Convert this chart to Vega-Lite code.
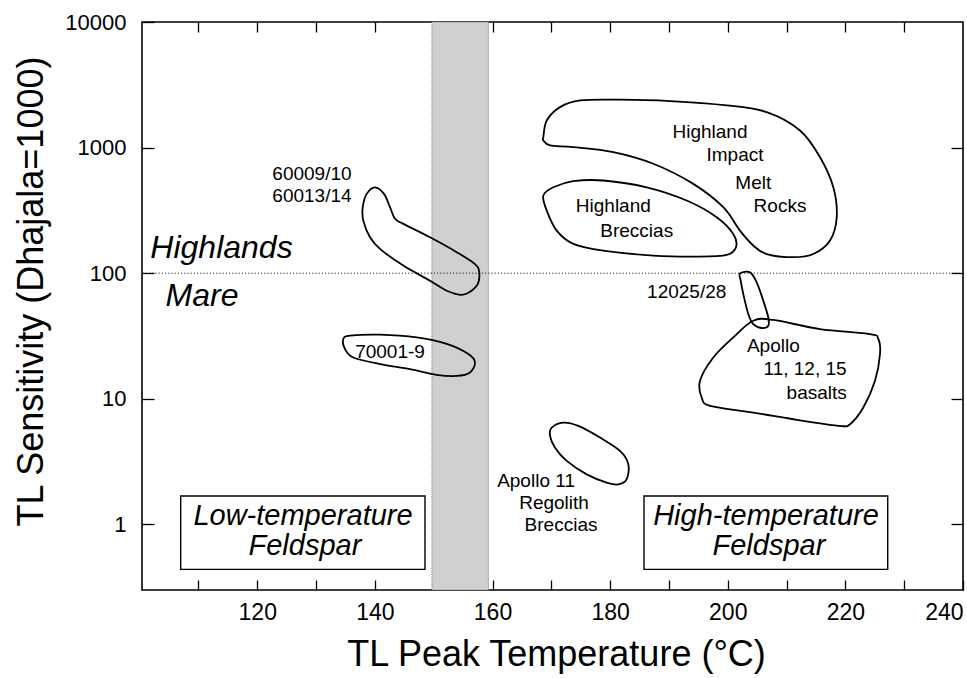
{
  "$schema": "https://vega.github.io/schema/vega-lite/v6.json",
  "width": 821,
  "height": 568,
  "autosize": "none",
  "padding": {"left": 142, "top": 22, "right": 4, "bottom": 88},
  "background": "white",
  "config": {
    "font": "Liberation Sans",
    "view": {"stroke": "black", "strokeWidth": 1.6},
    "axis": {
      "labelFont": "Liberation Sans",
      "titleFont": "Liberation Sans",
      "labelColor": "black",
      "titleColor": "black",
      "tickColor": "black",
      "tickWidth": 1.3,
      "titleFontWeight": "normal",
      "grid": false,
      "domain": false
    }
  },
  "datasets": {
    "band": [{"t1": 149.7, "t2": 159.3, "s1": 0.3, "s2": 10000}],
    "divide": [{"sensitivity": 100}],
    "regions": [
      {"shape": "60009", "i": 1, "temperature": 140.02, "sensitivity": 483},
      {"shape": "60009", "i": 2, "temperature": 141.55, "sensitivity": 428},
      {"shape": "60009", "i": 3, "temperature": 142.57, "sensitivity": 335},
      {"shape": "60009", "i": 4, "temperature": 143.42, "sensitivity": 271},
      {"shape": "60009", "i": 5, "temperature": 144.83, "sensitivity": 247},
      {"shape": "60009", "i": 6, "temperature": 149.37, "sensitivity": 193},
      {"shape": "60009", "i": 7, "temperature": 153.91, "sensitivity": 147},
      {"shape": "60009", "i": 8, "temperature": 157.02, "sensitivity": 118},
      {"shape": "60009", "i": 9, "temperature": 157.75, "sensitivity": 101},
      {"shape": "60009", "i": 10, "temperature": 157.31, "sensitivity": 79.5},
      {"shape": "60009", "i": 11, "temperature": 155.03, "sensitivity": 67.4},
      {"shape": "60009", "i": 12, "temperature": 152.21, "sensitivity": 72.5},
      {"shape": "60009", "i": 13, "temperature": 149.37, "sensitivity": 87.1},
      {"shape": "60009", "i": 14, "temperature": 144.83, "sensitivity": 115},
      {"shape": "60009", "i": 15, "temperature": 140.87, "sensitivity": 156},
      {"shape": "60009", "i": 16, "temperature": 139.17, "sensitivity": 193},
      {"shape": "60009", "i": 17, "temperature": 138.03, "sensitivity": 262},
      {"shape": "60009", "i": 18, "temperature": 137.93, "sensitivity": 335},
      {"shape": "60009", "i": 19, "temperature": 138.61, "sensitivity": 428},

      {"shape": "70001", "i": 1, "temperature": 134.63, "sensitivity": 29.9},
      {"shape": "70001", "i": 2, "temperature": 135.77, "sensitivity": 31.8},
      {"shape": "70001", "i": 3, "temperature": 140.87, "sensitivity": 32.4},
      {"shape": "70001", "i": 4, "temperature": 147.11, "sensitivity": 30.8},
      {"shape": "70001", "i": 5, "temperature": 152.21, "sensitivity": 27.3},
      {"shape": "70001", "i": 6, "temperature": 155.89, "sensitivity": 22.7},
      {"shape": "70001", "i": 7, "temperature": 157.02, "sensitivity": 19.5},
      {"shape": "70001", "i": 8, "temperature": 156.17, "sensitivity": 16.2},
      {"shape": "70001", "i": 9, "temperature": 153.91, "sensitivity": 15.2},
      {"shape": "70001", "i": 10, "temperature": 150.51, "sensitivity": 15.5},
      {"shape": "70001", "i": 11, "temperature": 145.97, "sensitivity": 17.2},
      {"shape": "70001", "i": 12, "temperature": 140.87, "sensitivity": 18.9},
      {"shape": "70001", "i": 13, "temperature": 136.33, "sensitivity": 21.3},
      {"shape": "70001", "i": 14, "temperature": 134.92, "sensitivity": 24.9},

      {"shape": "impact", "i": 1, "temperature": 168.64, "sensitivity": 1211},
      {"shape": "impact", "i": 2, "temperature": 169.22, "sensitivity": 1644},
      {"shape": "impact", "i": 3, "temperature": 171.48, "sensitivity": 2100},
      {"shape": "impact", "i": 4, "temperature": 174.88, "sensitivity": 2375},
      {"shape": "impact", "i": 5, "temperature": 181.68, "sensitivity": 2405},
      {"shape": "impact", "i": 6, "temperature": 190.18, "sensitivity": 2344},
      {"shape": "impact", "i": 7, "temperature": 199.82, "sensitivity": 2167},
      {"shape": "impact", "i": 8, "temperature": 206.62, "sensitivity": 1916},
      {"shape": "impact", "i": 9, "temperature": 212.29, "sensitivity": 1368},
      {"shape": "impact", "i": 10, "temperature": 215.69, "sensitivity": 838},
      {"shape": "impact", "i": 11, "temperature": 217.95, "sensitivity": 483},
      {"shape": "impact", "i": 12, "temperature": 218.53, "sensitivity": 279},
      {"shape": "impact", "i": 13, "temperature": 217.39, "sensitivity": 182},
      {"shape": "impact", "i": 14, "temperature": 214.55, "sensitivity": 142},
      {"shape": "impact", "i": 15, "temperature": 211.15, "sensitivity": 134},
      {"shape": "impact", "i": 16, "temperature": 206.62, "sensitivity": 142},
      {"shape": "impact", "i": 17, "temperature": 204.34, "sensitivity": 166},
      {"shape": "impact", "i": 18, "temperature": 202.08, "sensitivity": 218},
      {"shape": "impact", "i": 19, "temperature": 199.24, "sensitivity": 335},
      {"shape": "impact", "i": 20, "temperature": 194.14, "sensitivity": 514},
      {"shape": "impact", "i": 21, "temperature": 187.34, "sensitivity": 743},
      {"shape": "impact", "i": 22, "temperature": 180.54, "sensitivity": 919},
      {"shape": "impact", "i": 23, "temperature": 173.74, "sensitivity": 1007},
      {"shape": "impact", "i": 24, "temperature": 169.78, "sensitivity": 1040},
      {"shape": "impact", "i": 25, "temperature": 168.64, "sensitivity": 1140},

      {"shape": "breccias", "i": 1, "temperature": 168.64, "sensitivity": 415},
      {"shape": "breccias", "i": 2, "temperature": 170.34, "sensitivity": 483},
      {"shape": "breccias", "i": 3, "temperature": 173.74, "sensitivity": 540},
      {"shape": "breccias", "i": 4, "temperature": 178.84, "sensitivity": 547},
      {"shape": "breccias", "i": 5, "temperature": 186.22, "sensitivity": 483},
      {"shape": "breccias", "i": 6, "temperature": 193.02, "sensitivity": 379},
      {"shape": "breccias", "i": 7, "temperature": 198.12, "sensitivity": 279},
      {"shape": "breccias", "i": 8, "temperature": 200.94, "sensitivity": 205},
      {"shape": "breccias", "i": 9, "temperature": 201.4, "sensitivity": 161},
      {"shape": "breccias", "i": 10, "temperature": 199.82, "sensitivity": 140},
      {"shape": "breccias", "i": 11, "temperature": 195.28, "sensitivity": 135.5},
      {"shape": "breccias", "i": 12, "temperature": 187.34, "sensitivity": 138},
      {"shape": "breccias", "i": 13, "temperature": 178.84, "sensitivity": 151},
      {"shape": "breccias", "i": 14, "temperature": 173.74, "sensitivity": 171},
      {"shape": "breccias", "i": 15, "temperature": 170.92, "sensitivity": 218},
      {"shape": "breccias", "i": 16, "temperature": 169.22, "sensitivity": 315},

      {"shape": "12025", "i": 1, "temperature": 202.08, "sensitivity": 99.6},
      {"shape": "12025", "i": 2, "temperature": 203.78, "sensitivity": 101.5},
      {"shape": "12025", "i": 3, "temperature": 204.92, "sensitivity": 84.5},
      {"shape": "12025", "i": 4, "temperature": 206.04, "sensitivity": 60.4},
      {"shape": "12025", "i": 5, "temperature": 206.89, "sensitivity": 44.4},
      {"shape": "12025", "i": 6, "temperature": 206.89, "sensitivity": 38.1},
      {"shape": "12025", "i": 7, "temperature": 205.77, "sensitivity": 36.6},
      {"shape": "12025", "i": 8, "temperature": 204.34, "sensitivity": 39.3},
      {"shape": "12025", "i": 9, "temperature": 203.49, "sensitivity": 47.3},
      {"shape": "12025", "i": 10, "temperature": 202.64, "sensitivity": 68.2},
      {"shape": "12025", "i": 11, "temperature": 202.2, "sensitivity": 87.1},

      {"shape": "basalts", "i": 1, "temperature": 204.34, "sensitivity": 41.8},
      {"shape": "basalts", "i": 2, "temperature": 207.74, "sensitivity": 42.4},
      {"shape": "basalts", "i": 3, "temperature": 215.69, "sensitivity": 35.9},
      {"shape": "basalts", "i": 4, "temperature": 224.19, "sensitivity": 32.7},
      {"shape": "basalts", "i": 5, "temperature": 225.6, "sensitivity": 29.9},
      {"shape": "basalts", "i": 6, "temperature": 225.89, "sensitivity": 22.7},
      {"shape": "basalts", "i": 7, "temperature": 225.04, "sensitivity": 13.9},
      {"shape": "basalts", "i": 8, "temperature": 223.05, "sensitivity": 8.51},
      {"shape": "basalts", "i": 9, "temperature": 220.79, "sensitivity": 6.27},
      {"shape": "basalts", "i": 10, "temperature": 219.09, "sensitivity": 6.08},
      {"shape": "basalts", "i": 11, "temperature": 212.85, "sensitivity": 6.67},
      {"shape": "basalts", "i": 12, "temperature": 204.34, "sensitivity": 7.76},
      {"shape": "basalts", "i": 13, "temperature": 197.0, "sensitivity": 8.78},
      {"shape": "basalts", "i": 14, "temperature": 195.57, "sensitivity": 10.2},
      {"shape": "basalts", "i": 15, "temperature": 195.28, "sensitivity": 13.9},
      {"shape": "basalts", "i": 16, "temperature": 197.54, "sensitivity": 21.3},
      {"shape": "basalts", "i": 17, "temperature": 200.94, "sensitivity": 30.8},

      {"shape": "regolith", "i": 1, "temperature": 170.07, "sensitivity": 5.89},
      {"shape": "regolith", "i": 2, "temperature": 172.04, "sensitivity": 6.46},
      {"shape": "regolith", "i": 3, "temperature": 174.59, "sensitivity": 6.08},
      {"shape": "regolith", "i": 4, "temperature": 178.28, "sensitivity": 4.91},
      {"shape": "regolith", "i": 5, "temperature": 181.68, "sensitivity": 3.84},
      {"shape": "regolith", "i": 6, "temperature": 183.09, "sensitivity": 3.01},
      {"shape": "regolith", "i": 7, "temperature": 182.82, "sensitivity": 2.29},
      {"shape": "regolith", "i": 8, "temperature": 181.39, "sensitivity": 2.08},
      {"shape": "regolith", "i": 9, "temperature": 179.42, "sensitivity": 2.15},
      {"shape": "regolith", "i": 10, "temperature": 176.02, "sensitivity": 2.5},
      {"shape": "regolith", "i": 11, "temperature": 172.62, "sensitivity": 3.2},
      {"shape": "regolith", "i": 12, "temperature": 170.63, "sensitivity": 4.08},
      {"shape": "regolith", "i": 13, "temperature": 169.78, "sensitivity": 5.06}
    ],
    "boxes": [
      {"name": "low", "t1": 106.98, "t2": 148.52, "s1": 0.438, "s2": 1.68},
      {"name": "high", "t1": 185.76, "t2": 227.2, "s1": 0.438, "s2": 1.68}
    ],
    "labels": [
      {"role": "sample", "text": "60009/10", "temperature": 129.3, "sensitivity": 621},
      {"role": "sample", "text": "60013/14", "temperature": 129.3, "sensitivity": 415},
      {"role": "sample", "text": "70001-9", "temperature": 142.57, "sensitivity": 23.4},
      {"role": "sample", "text": "Highland", "temperature": 196.98, "sensitivity": 1327},
      {"role": "sample", "text": "Impact", "temperature": 201.23, "sensitivity": 865},
      {"role": "sample", "text": "Melt", "temperature": 204.34, "sensitivity": 520},
      {"role": "sample", "text": "Rocks", "temperature": 208.88, "sensitivity": 345},
      {"role": "sample", "text": "Highland", "temperature": 180.54, "sensitivity": 345},
      {"role": "sample", "text": "Breccias", "temperature": 184.52, "sensitivity": 218},
      {"role": "sample", "text": "12025/28", "temperature": 193.02, "sensitivity": 70.3},
      {"role": "sample", "text": "Apollo", "temperature": 207.75, "sensitivity": 26.4},
      {"role": "sample", "text": "11, 12, 15", "temperature": 213.14, "sensitivity": 17.2},
      {"role": "sample", "text": "basalts", "temperature": 215.12, "sensitivity": 11.2},
      {"role": "sample", "text": "Apollo 11", "temperature": 167.4, "sensitivity": 2.21},
      {"role": "sample", "text": "Regolith", "temperature": 170.46, "sensitivity": 1.48},
      {"role": "sample", "text": "Breccias", "temperature": 171.65, "sensitivity": 0.995},
      {"role": "terrain", "text": "Highlands", "temperature": 113.92, "sensitivity": 133},
      {"role": "terrain", "text": "Mare", "temperature": 110.6, "sensitivity": 55.1},
      {"role": "feldspar", "text": "Low-temperature", "temperature": 127.78, "sensitivity": 1.165},
      {"role": "feldspar", "text": "Feldspar", "temperature": 128.1, "sensitivity": 0.671},
      {"role": "feldspar", "text": "High-temperature", "temperature": 206.5, "sensitivity": 1.165},
      {"role": "feldspar", "text": "Feldspar", "temperature": 207.0, "sensitivity": 0.671}
    ]
  },
  "layer": [
    {
      "data": {"name": "band"},
      "mark": {"type": "rect", "fill": "#d0d0d0", "stroke": "#777777", "strokeWidth": 1, "strokeDash": [1, 1]},
      "encoding": {
        "x": {
          "field": "t1", "type": "quantitative",
          "scale": {"domain": [100.4, 240], "nice": false, "zero": false},
          "axis": {"orient": "top", "values": [110, 120, 130, 140, 150, 160, 170, 180, 190, 200, 210, 220, 230], "tickSize": -10, "labels": false, "title": null}
        },
        "x2": {"field": "t2"},
        "y": {
          "field": "s1", "type": "quantitative",
          "scale": {"type": "log", "domain": [0.3, 10000], "nice": false},
          "axis": {"orient": "right", "values": [1, 10, 100, 1000], "tickSize": -12, "labels": false, "title": null}
        },
        "y2": {"field": "s2"}
      }
    },
    {
      "data": {"name": "divide"},
      "mark": {"type": "rule", "stroke": "#222222", "strokeWidth": 1, "strokeDash": [1.2, 2]},
      "encoding": {
        "y": {
          "field": "sensitivity", "type": "quantitative",
          "scale": {"type": "log", "domain": [0.3, 10000], "nice": false},
          "axis": null
        }
      }
    },
    {
      "data": {"name": "regions"},
      "mark": {"type": "line", "interpolate": "cardinal-closed", "stroke": "black", "strokeWidth": 1.8},
      "encoding": {
        "x": {
          "field": "temperature", "type": "quantitative",
          "scale": {"domain": [100.4, 240], "nice": false, "zero": false},
          "axis": {
            "orient": "bottom",
            "values": [110, 120, 130, 140, 150, 160, 170, 180, 190, 200, 210, 220, 230, 240],
            "labelExpr": "datum.value % 20 === 0 ? datum.label : ''",
            "labelFlush": true,
            "tickSize": -10,
            "labelFontSize": 23,
            "labelPadding": 21,
            "title": "TL Peak Temperature (°C)",
            "titleFontSize": 36,
            "titleX": 414,
            "titleY": 75,
            "titleBaseline": "alphabetic"
          }
        },
        "y": {
          "field": "sensitivity", "type": "quantitative",
          "scale": {"type": "log", "domain": [0.3, 10000], "nice": false},
          "axis": {
            "orient": "left",
            "values": [1, 10, 100, 1000, 10000],
            "format": "d",
            "labelFlush": false,
            "tickSize": -12,
            "labelFontSize": 22,
            "labelPadding": 28,
            "title": "TL Sensitivity (Dhajala=1000)",
            "titleFontSize": 36,
            "titleAngle": -90,
            "titleX": -100,
            "titleY": 269,
            "titleAlign": "center",
            "titleBaseline": "alphabetic"
          }
        },
        "detail": {"field": "shape", "type": "nominal"},
        "order": {"field": "i", "type": "quantitative"}
      }
    },
    {
      "data": {"name": "boxes"},
      "mark": {"type": "rect", "fill": "white", "stroke": "black", "strokeWidth": 1.4},
      "encoding": {
        "x": {"field": "t1", "type": "quantitative", "scale": {"domain": [100.4, 240], "nice": false, "zero": false}, "axis": null},
        "x2": {"field": "t2"},
        "y": {"field": "s1", "type": "quantitative", "scale": {"type": "log", "domain": [0.3, 10000], "nice": false}, "axis": null},
        "y2": {"field": "s2"}
      }
    },
    {
      "data": {"name": "labels"},
      "transform": [{"filter": "datum.role === 'sample'"}],
      "mark": {"type": "text", "font": "Liberation Sans", "fontSize": 19, "align": "center", "baseline": "middle", "color": "black"},
      "encoding": {
        "x": {"field": "temperature", "type": "quantitative", "scale": {"domain": [100.4, 240], "nice": false, "zero": false}, "axis": null},
        "y": {"field": "sensitivity", "type": "quantitative", "scale": {"type": "log", "domain": [0.3, 10000], "nice": false}, "axis": null},
        "text": {"field": "text", "type": "nominal"}
      }
    },
    {
      "data": {"name": "labels"},
      "transform": [{"filter": "datum.role === 'terrain'"}],
      "mark": {"type": "text", "font": "Liberation Sans", "fontSize": 32, "fontStyle": "italic", "align": "center", "baseline": "alphabetic", "color": "black"},
      "encoding": {
        "x": {"field": "temperature", "type": "quantitative", "scale": {"domain": [100.4, 240], "nice": false, "zero": false}, "axis": null},
        "y": {"field": "sensitivity", "type": "quantitative", "scale": {"type": "log", "domain": [0.3, 10000], "nice": false}, "axis": null},
        "text": {"field": "text", "type": "nominal"}
      }
    },
    {
      "data": {"name": "labels"},
      "transform": [{"filter": "datum.role === 'feldspar'"}],
      "mark": {"type": "text", "font": "Liberation Sans", "fontSize": 29, "fontStyle": "italic", "align": "center", "baseline": "middle", "color": "black"},
      "encoding": {
        "x": {"field": "temperature", "type": "quantitative", "scale": {"domain": [100.4, 240], "nice": false, "zero": false}, "axis": null},
        "y": {"field": "sensitivity", "type": "quantitative", "scale": {"type": "log", "domain": [0.3, 10000], "nice": false}, "axis": null},
        "text": {"field": "text", "type": "nominal"}
      }
    }
  ],
  "resolve": {"axis": {"x": "independent", "y": "independent"}}
}
